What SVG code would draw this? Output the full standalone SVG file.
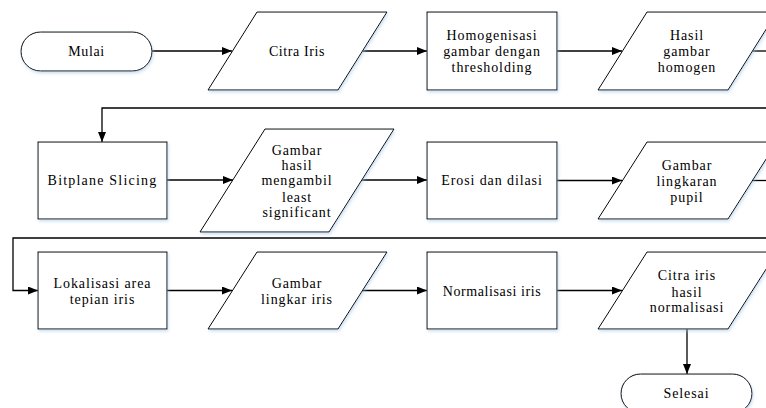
<svg xmlns="http://www.w3.org/2000/svg" width="766" height="408" viewBox="0 0 766 408">
<defs>
<marker id="ah" viewBox="0 0 10 8" refX="10" refY="4" markerWidth="10" markerHeight="8" markerUnits="userSpaceOnUse" orient="auto">
<path d="M0,0 L10,4 L0,8 z" fill="#000"/>
</marker>
<filter id="sh" x="-10%" y="-10%" width="120%" height="130%">
<feDropShadow dx="1" dy="2" stdDeviation="1.5" flood-color="#9fc3e6" flood-opacity="0.5"/>
</filter>
</defs>
<style>
.s{fill:#fff;stroke:#000;stroke-width:1;filter:url(#sh)}
.t{font-size:14px;fill:#000;text-anchor:middle;letter-spacing:0.9px}
.c{fill:none;stroke:#000;stroke-width:1.3}
</style>
<rect width="766" height="408" fill="#fff"/>
<g id="connectors">
<path class="c" d="M152,51 H232" marker-end="url(#ah)"/>
<path class="c" d="M362,51 H427" marker-end="url(#ah)"/>
<path class="c" d="M557,51 H622" marker-end="url(#ah)"/>
<path class="c" d="M752,51 H766"/>
<path class="c" d="M766,108 H102 V142" marker-end="url(#ah)"/>
<path class="c" d="M167,180 H233" marker-end="url(#ah)"/>
<path class="c" d="M362,180 H427" marker-end="url(#ah)"/>
<path class="c" d="M557,180.5 H622" marker-end="url(#ah)"/>
<path class="c" d="M752,180.5 H766"/>
<path class="c" d="M766,238 H13 V290.5 H38" marker-end="url(#ah)"/>
<path class="c" d="M167,290.5 H232" marker-end="url(#ah)"/>
<path class="c" d="M362,290.5 H427" marker-end="url(#ah)"/>
<path class="c" d="M557,290.5 H622" marker-end="url(#ah)"/>
<path class="c" d="M687,329 V374" marker-end="url(#ah)"/>
</g>
<g font-family="Liberation Serif, Times New Roman, serif">
<g id="mulai">
<rect class="s" x="21" y="32" width="131" height="39" rx="19.5"/>
<text class="t" x="86.5" y="56" style="letter-spacing:0.6px">Mulai</text>
</g>
<g id="citra-iris">
<polygon class="s" points="257,12 387,12 338,90 208,90"/>
<text class="t" x="297" y="56" style="letter-spacing:0.6px">Citra Iris</text>
</g>
<g id="homogenisasi">
<rect class="s" x="427" y="12" width="130" height="78"/>
<text class="t" x="492" y="40">Homogenisasi</text>
<text class="t" x="492" y="56">gambar dengan</text>
<text class="t" x="492" y="71.5">thresholding</text>
</g>
<g id="hasil-homogen">
<polygon class="s" points="647,12 777,12 728,90 598,90"/>
<text class="t" x="687" y="40">Hasil</text>
<text class="t" x="687" y="56">gambar</text>
<text class="t" x="687" y="71.5">homogen</text>
</g>
<g id="bitplane">
<rect class="s" x="38" y="142" width="129" height="77"/>
<text class="t" x="102.5" y="185" style="letter-spacing:1.2px">Bitplane Slicing</text>
</g>
<g id="gambar-lsb">
<polygon class="s" points="265,129 394,129 329,232 200,232"/>
<text class="t" x="297" y="155">Gambar</text>
<text class="t" x="297" y="170">hasil</text>
<text class="t" x="297" y="185">mengambil</text>
<text class="t" x="297" y="201.5">least</text>
<text class="t" x="297" y="216.5">significant</text>
</g>
<g id="erosi">
<rect class="s" x="427" y="142" width="130" height="77"/>
<text class="t" x="492" y="185">Erosi dan dilasi</text>
</g>
<g id="pupil">
<polygon class="s" points="647,142 777,142 728,219 598,219"/>
<text class="t" x="687" y="170">Gambar</text>
<text class="t" x="687" y="185.5">lingkaran</text>
<text class="t" x="687" y="201.5">pupil</text>
</g>
<g id="lokalisasi">
<rect class="s" x="38" y="252" width="129" height="77"/>
<text class="t" x="102.5" y="288">Lokalisasi area</text>
<text class="t" x="102.5" y="304">tepian iris</text>
</g>
<g id="lingkar-iris">
<polygon class="s" points="257,252 387,252 338,329 208,329"/>
<text class="t" x="297" y="288">Gambar</text>
<text class="t" x="297" y="304">lingkar iris</text>
</g>
<g id="normalisasi">
<rect class="s" x="427" y="252" width="130" height="77"/>
<text class="t" x="492" y="295.5" style="letter-spacing:0.6px">Normalisasi iris</text>
</g>
<g id="citra-normalisasi">
<polygon class="s" points="647,252 777,252 728,329 598,329"/>
<text class="t" x="687" y="280">Citra iris</text>
<text class="t" x="687" y="296.5">hasil</text>
<text class="t" x="687" y="311.5">normalisasi</text>
</g>
<g id="selesai">
<rect class="s" x="621" y="374" width="131" height="39" rx="19.5"/>
<text class="t" x="686.5" y="398">Selesai</text>
</g>
</g>
</svg>
